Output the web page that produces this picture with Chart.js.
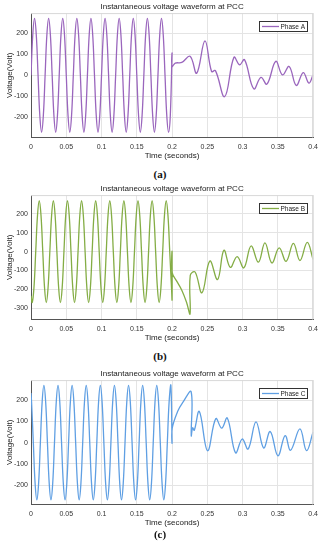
<!DOCTYPE html>
<html>
<head>
<meta charset="utf-8">
<script src="https://cdn.jsdelivr.net/npm/chart.js@4.4.1/dist/chart.umd.min.js"></script>
<style>
  html, body { margin: 0; padding: 0; background: #fff; }
  body { width: 323px; height: 550px; position: relative; overflow: hidden; }
  .panel { position: absolute; left: 0; width: 323px; height: 165px; }
  .cap { position: absolute; left: 0; width: 320px; text-align: center;
         font: bold 11px 'Liberation Serif', 'DejaVu Serif', serif; color: #111; line-height: 12px; }
</style>
</head>
<body>
<div class="panel" style="top:0"><canvas id="chA" width="323" height="165"></canvas></div>
<div class="cap" style="top:168px">(a)</div>
<div class="panel" style="top:182px"><canvas id="chB" width="323" height="165"></canvas></div>
<div class="cap" style="top:350px">(b)</div>
<div class="panel" style="top:367px"><canvas id="chC" width="323" height="165"></canvas></div>
<div class="cap" style="top:528px">(c)</div>

<script>
// ── Axis ticks ──────────────────────────────────────────────────────
const X_TICKS       = [0, 0.05, 0.1, 0.15, 0.2, 0.25, 0.3, 0.35, 0.4];
const X_TICK_LABELS = ['0', '0.05', '0.1', '0.15', '0.2', '0.25', '0.3', '0.35', '0.4'];
const Y_TICKS_AC    = [-200, -100, 0, 100, 200];
const Y_TICKS_B     = [-300, -200, -100, 0, 100, 200];

// ── Phase A (seconds / volts) ───────────────────────────────────────
const TIME_A = [
  0, 0.0025, 0.005, 0.0075, 0.01, 0.0125, 0.015, 0.0175,
  0.02, 0.0225, 0.025, 0.0275, 0.03, 0.0325, 0.035, 0.0375,
  0.04, 0.0425, 0.045, 0.0475, 0.05, 0.0525, 0.055, 0.0575,
  0.06, 0.0625, 0.065, 0.0675, 0.07, 0.0725, 0.075, 0.0775,
  0.08, 0.0825, 0.085, 0.0875, 0.09, 0.0925, 0.095, 0.0975,
  0.1, 0.1025, 0.105, 0.1075, 0.11, 0.1125, 0.115, 0.1175,
  0.12, 0.1225, 0.125, 0.1275, 0.13, 0.1325, 0.135, 0.1375,
  0.14, 0.1425, 0.145, 0.1475, 0.15, 0.1525, 0.155, 0.1575,
  0.16, 0.1625, 0.165, 0.1675, 0.17, 0.1725, 0.175, 0.1775,
  0.18, 0.1825, 0.185, 0.1875, 0.19, 0.1925, 0.195, 0.1975,
  0.2, 0.2, 0.2045, 0.2138, 0.2255, 0.2349, 0.2466, 0.256, 0.2615, 0.2746,
  0.2877, 0.2957, 0.3027, 0.3158, 0.326, 0.3345, 0.347, 0.3565, 0.366,
  0.376, 0.386, 0.394, 0.4
];
const VOLT_A = [
  0, 191, 270, 191, 0, -191, -270, -191,
  0, 191, 270, 191, 0, -191, -270, -191,
  0, 191, 270, 191, 0, -191, -270, -191,
  0, 191, 270, 191, 0, -191, -270, -191,
  0, 191, 270, 191, 0, -191, -270, -191,
  0, 191, 270, 191, 0, -191, -270, -191,
  0, 191, 270, 191, 0, -191, -270, -191,
  0, 191, 270, 191, 0, -191, -270, -191,
  0, 191, 270, 191, 0, -191, -270, -191,
  0, 191, 270, 191, 0, -191, -270, -191,
  104, 42, 58, 61, 90, 10, 163, 18, 22, -101,
  85, 50, 74, -64, -10, -42, 66, 2, 42,
  -48, 13, -37, 2
];

// ── Phase B ─────────────────────────────────────────────────────────
const TIME_B = [
  0,
  0.0017, 0.0042, 0.0067, 0.0092, 0.0117, 0.0142, 0.0167, 0.0192,
  0.0217, 0.0242, 0.0267, 0.0292, 0.0317, 0.0342, 0.0367, 0.0392,
  0.0417, 0.0442, 0.0467, 0.0492, 0.0517, 0.0542, 0.0567, 0.0592,
  0.0617, 0.0642, 0.0667, 0.0692, 0.0717, 0.0742, 0.0767, 0.0792,
  0.0817, 0.0842, 0.0867, 0.0892, 0.0917, 0.0942, 0.0967, 0.0992,
  0.1017, 0.1042, 0.1067, 0.1092, 0.1117, 0.1142, 0.1167, 0.1192,
  0.1217, 0.1242, 0.1267, 0.1292, 0.1317, 0.1342, 0.1367, 0.1392,
  0.1417, 0.1442, 0.1467, 0.1492, 0.1517, 0.1542, 0.1567, 0.1592,
  0.1617, 0.1642, 0.1667, 0.1692, 0.1717, 0.1742, 0.1767, 0.1792,
  0.1817, 0.1842, 0.1867, 0.1892, 0.1917, 0.1942, 0.1967, 0.1992,
  0.2, 0.2, 0.2003, 0.2068, 0.2138, 0.2208, 0.2255, 0.2258, 0.2326, 0.2424,
  0.2536, 0.2645, 0.2735, 0.2826, 0.2923, 0.3018, 0.312, 0.3224, 0.3317,
  0.3415, 0.3518, 0.3617, 0.372, 0.3813, 0.3916, 0.4
];
const VOLT_B = [
  -234,
  -270, -191, 0, 191, 270, 191, 0, -191,
  -270, -191, 0, 191, 270, 191, 0, -191,
  -270, -191, 0, 191, 270, 191, 0, -191,
  -270, -191, 0, 191, 270, 191, 0, -191,
  -270, -191, 0, 191, 270, 191, 0, -191,
  -270, -191, 0, 191, 270, 191, 0, -191,
  -270, -191, 0, 191, 270, 191, 0, -191,
  -270, -191, 0, 191, 270, 191, 0, -191,
  -270, -191, 0, 191, 270, 191, 0, -191,
  -270, -191, 0, 191, 270, 191, 0, -191,
  -255, 0, -112, -158, -205, -272, -330, -126, -108, -218,
  -50, -148, 7, -83, -26, -86, 30, -56, 46,
  -60, 20, -51, 44, -47, 49, -42
];

// ── Phase C ─────────────────────────────────────────────────────────
const TIME_C = [
  0,
  0.0008, 0.0033, 0.0058, 0.0083, 0.0108, 0.0133, 0.0158, 0.0183,
  0.0208, 0.0233, 0.0258, 0.0283, 0.0308, 0.0333, 0.0358, 0.0383,
  0.0408, 0.0433, 0.0458, 0.0483, 0.0508, 0.0533, 0.0558, 0.0583,
  0.0608, 0.0633, 0.0658, 0.0683, 0.0708, 0.0733, 0.0758, 0.0783,
  0.0808, 0.0833, 0.0858, 0.0883, 0.0908, 0.0933, 0.0958, 0.0983,
  0.1008, 0.1033, 0.1058, 0.1083, 0.1108, 0.1133, 0.1158, 0.1183,
  0.1208, 0.1233, 0.1258, 0.1283, 0.1308, 0.1333, 0.1358, 0.1383,
  0.1408, 0.1433, 0.1458, 0.1483, 0.1508, 0.1533, 0.1558, 0.1583,
  0.1608, 0.1633, 0.1658, 0.1683, 0.1708, 0.1733, 0.1758, 0.1783,
  0.1808, 0.1833, 0.1858, 0.1883, 0.1908, 0.1933, 0.1958, 0.1983,
  0.2, 0.2002, 0.208, 0.2155, 0.227, 0.2272, 0.2292, 0.2315, 0.2386, 0.2503,
  0.262, 0.2704, 0.2783, 0.29, 0.2994, 0.3078, 0.319, 0.3298, 0.3392,
  0.35, 0.3603, 0.368, 0.3813, 0.3906, 0.4
];
const VOLT_C = [
  234,
  191, 0, -191, -270, -191, 0, 191, 270,
  191, 0, -191, -270, -191, 0, 191, 270,
  191, 0, -191, -270, -191, 0, 191, 270,
  191, 0, -191, -270, -191, 0, 191, 270,
  191, 0, -191, -270, -191, 0, 191, 270,
  191, 0, -191, -270, -191, 0, 191, 270,
  191, 0, -191, -270, -191, 0, 191, 270,
  191, 0, -191, -270, -191, 0, 191, 270,
  191, 0, -191, -270, -191, 0, 191, 270,
  191, 0, -191, -270, -191, 0, 191, 270,
  0, 68, 148, 191, 240, 33, 70, 58, 147, -38,
  113, 68, 116, -48, 17, -30, 98, -25, 52,
  -62, 33, -36, 65, -38, 50
];

const FONT = "'Liberation Sans', Arial, sans-serif";

// Axes frame (light top/right edge) + MATLAB-style boxed legend
const framePlugin = {
  id: 'frameAndLegend',
  afterDraw(chart) {
    const { ctx, chartArea: a } = chart;
    ctx.save();
    ctx.strokeStyle = '#d8d8d8';
    ctx.lineWidth = 1;
    ctx.beginPath();
    ctx.moveTo(a.left, a.top + 0.5);
    ctx.lineTo(a.right, a.top + 0.5);
    ctx.moveTo(a.right - 0.5, a.top);
    ctx.lineTo(a.right - 0.5, a.bottom);
    ctx.stroke();

    const ds = chart.data.datasets[0];
    const w = 48, h = 10;
    const x = Math.round(a.right - 6.5 - w), y = Math.round(a.top + 7.5);
    ctx.fillStyle = '#fff';
    ctx.fillRect(x, y, w, h);
    ctx.strokeStyle = '#333';
    ctx.strokeRect(x + 0.5, y + 0.5, w, h);
    ctx.strokeStyle = ds.borderColor;
    ctx.lineWidth = 1.3;
    ctx.beginPath();
    ctx.moveTo(x + 3, y + h / 2 + 0.5);
    ctx.lineTo(x + 20, y + h / 2 + 0.5);
    ctx.stroke();
    ctx.fillStyle = '#222';
    ctx.font = '6.5px ' + FONT;
    ctx.textBaseline = 'middle';
    ctx.fillText(ds.label, x + 21.5, y + h / 2 + 1);
    ctx.restore();
  }
};

function makePanel(id, label, color, times, volts, yMin, yMax, yTicks) {
  return new Chart(document.getElementById(id), {
    type: 'line',
    data: {
      datasets: [{
        label: label,
        data: times.map((t, i) => ({ x: t, y: volts[i] })),
        borderColor: color,
        borderWidth: 1.3,
        pointRadius: 0,
        tension: 0.4,
        fill: false,
      }]
    },
    options: {
      responsive: false,
      animation: false,
      layout: { padding: { left: 0, right: 7, top: 0, bottom: 0 } },
      plugins: {
        legend: { display: false },
        tooltip: { enabled: false },
        title: {
          display: true,
          text: 'Instantaneous voltage waveform at PCC',
          color: '#222',
          fullSize: false,
          font: { family: FONT, size: 8, weight: 'normal', lineHeight: 1.2 },
          padding: { top: 2, bottom: 1.5 },
        },
      },
      scales: {
        x: {
          type: 'linear',
          min: 0, max: 0.4,
          afterBuildTicks: s => { s.ticks = X_TICKS.map(v => ({ value: v })); },
          afterFit: s => { s.height = 27.5; },
          ticks: {
            color: '#333', padding: 5, maxRotation: 0, autoSkip: false,
            font: { family: FONT, size: 7 },
            callback: (v, i) => X_TICK_LABELS[i],
          },
          grid: { color: '#e4e4e4', drawTicks: false },
          border: { color: '#555' },
          title: {
            display: true, text: 'Time (seconds)', color: '#222',
            font: { family: FONT, size: 8, lineHeight: 1.2 },
            padding: { top: 0, bottom: 4 },
          },
        },
        y: {
          min: yMin, max: yMax,
          afterBuildTicks: s => { s.ticks = yTicks.map(v => ({ value: v })); },
          afterFit: s => { s.width = 31; },
          ticks: {
            color: '#333', padding: 3,
            font: { family: FONT, size: 7 },
          },
          grid: { color: '#e4e4e4', drawTicks: false },
          border: { color: '#555' },
          title: {
            display: true, text: 'Voltage(Volt)', color: '#222',
            font: { family: FONT, size: 8, lineHeight: 1.2 },
            padding: { top: 5, bottom: 0 },
          },
        },
      },
    },
    plugins: [framePlugin],
  });
}

makePanel('chA', 'Phase A', '#9a66bd', TIME_A, VOLT_A, -295, 295, Y_TICKS_AC);
makePanel('chB', 'Phase B', '#84ad45', TIME_B, VOLT_B, -360, 300, Y_TICKS_B);
makePanel('chC', 'Phase C', '#5f9fe3', TIME_C, VOLT_C, -292, 295, Y_TICKS_AC);
</script>
</body>
</html>
